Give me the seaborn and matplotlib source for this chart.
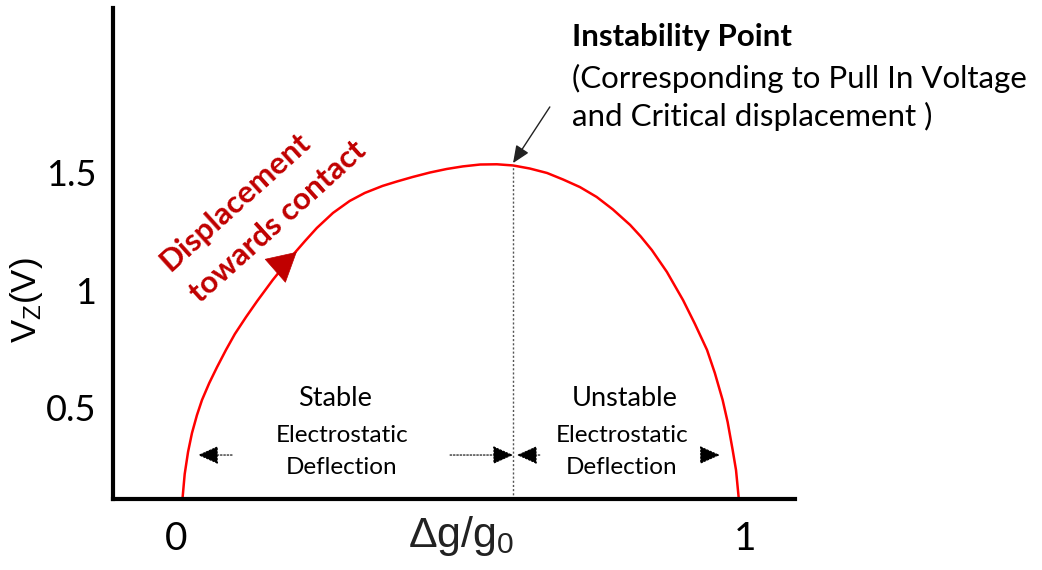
import numpy as np
import pandas as pd
import matplotlib
matplotlib.use("Agg")
import matplotlib.pyplot as plt
import matplotlib.transforms as mtransforms
import seaborn as sns

# ---- data ----
gap_ratio = [0.000, 0.004, 0.010, 0.017, 0.026, 0.035, 0.048, 0.062, 0.078,
             0.094, 0.114, 0.134, 0.162, 0.198, 0.220, 0.241, 0.270, 0.300,
             0.327, 0.359, 0.385, 0.413, 0.444, 0.474, 0.503, 0.534, 0.564,
             0.593, 0.623, 0.654, 0.683, 0.713, 0.743, 0.772, 0.803, 0.822,
             0.842, 0.869, 0.898, 0.919, 0.941, 0.955, 0.969, 0.978, 0.987,
             0.993, 0.998]
voltage = [0.111, 0.217, 0.311, 0.391, 0.468, 0.532, 0.604, 0.672, 0.745,
           0.813, 0.885, 0.953, 1.043, 1.149, 1.209, 1.264, 1.328, 1.379,
           1.413, 1.443, 1.462, 1.481, 1.500, 1.515, 1.526, 1.534, 1.535,
           1.530, 1.517, 1.498, 1.470, 1.438, 1.396, 1.343, 1.277, 1.228,
           1.170, 1.077, 0.957, 0.857, 0.745, 0.647, 0.532, 0.438, 0.319,
           0.234, 0.111]

x_ticks = [0, 0.25, 0.5, 0.75, 1]
x_tick_labels = ["0", "", "", "", "1"]
y_ticks = [0.5, 1, 1.5]
y_tick_labels = ["0.5", "1", "1.5"]

instability_x = 0.593
instability_v = 1.530

df = pd.DataFrame({"gap": gap_ratio, "v": voltage})

sns.set_theme(style="white")
plt.rcParams["font.family"] = ["Lato", "DejaVu Sans"]
plt.rcParams["mathtext.fontset"] = "custom"
plt.rcParams["mathtext.rm"] = "Liberation Sans"
plt.rcParams["mathtext.it"] = "Liberation Sans"
plt.rcParams["mathtext.bf"] = "Liberation Sans:bold"

fig = plt.figure(figsize=(10.42, 5.70), dpi=100)
ax = fig.add_axes([0.1084, 0.1246, 0.6545, 0.8614])

sns.lineplot(data=df, x="gap", y="v", ax=ax, color="#FF0000", lw=1.8,
             errorbar=None, sort=False)

ax.set_xlim(-0.1247, 1.0987)
ax.set_ylim(0.111, 2.2)

for s in ["top", "right"]:
    ax.spines[s].set_visible(False)
for s in ["left", "bottom"]:
    ax.spines[s].set_linewidth(3)
    ax.spines[s].set_color("black")

ax.set_xticks(x_ticks)
ax.set_xticklabels(x_tick_labels)
ax.set_yticks(y_ticks)
ax.set_yticklabels(y_tick_labels)
ax.tick_params(axis="x", direction="in", length=6, width=1.8, pad=16,
               labelsize=28, colors="black")
ax.tick_params(axis="y", direction="in", length=6, width=1.8, pad=12,
               labelsize=26, colors="black")

# nudge the "0" and "1" labels slightly apart, as in the reference
xlabels = ax.get_xticklabels()
xlabels[0].set_transform(xlabels[0].get_transform() +
                         mtransforms.ScaledTranslation(-6 / 100, 0, fig.dpi_scale_trans))
xlabels[-1].set_transform(xlabels[-1].get_transform() +
                          mtransforms.ScaledTranslation(5 / 100, 0, fig.dpi_scale_trans))

ax.set_xlabel("\u0394g/g$_0$", family="Liberation Sans", fontsize=31,
              color="#222222")
ax.xaxis.set_label_coords(0.51, -0.03)
ax.set_ylabel("V$_Z$(V)", family="Liberation Sans", fontsize=25,
              color="black")
ax.yaxis.set_label_coords(-0.10, 0.405)

# vertical dotted line at instability point
ax.plot([instability_x, instability_x], [0.111, instability_v],
        color="#555555", lw=1, ls=(0, (1.5, 1.5)))

# instability arrow
ax.annotate("", xy=(instability_x, 1.54), xytext=(0.659, 1.779),
            arrowprops=dict(arrowstyle="-|>,head_length=0.7,head_width=0.3",
                            mutation_scale=15, color="#222222", lw=1,
                            shrinkA=0, shrinkB=0))

ax.text(0.699, 2.077, "Instability Point", fontsize=22.5, fontweight="bold",
        ha="left", va="center", color="black")
ax.text(0.699, 1.902, "(Corresponding to Pull In Voltage", fontsize=22.5,
        ha="left", va="center", color="black")
ax.text(0.699, 1.740, "and Critical displacement )", fontsize=22.5,
        ha="left", va="center", color="black")

# red direction arrowhead on curve
ax.annotate("", xy=(0.205, 1.162), xytext=(0.168, 1.085),
            arrowprops=dict(arrowstyle="-|>,head_length=1.0,head_width=0.55",
                            mutation_scale=20, color="#C00000", lw=0.5,
                            shrinkA=0, shrinkB=0))

ax.text(0.094, 1.374, "Displacement", fontsize=22.5, fontweight="bold",
        color="#C00000", rotation=42, rotation_mode="anchor",
        ha="center", va="center")
ax.text(0.171, 1.289, "towards contact", fontsize=22.5, fontweight="bold",
        color="#C00000", rotation=42, rotation_mode="anchor",
        ha="center", va="center")

# region labels
ax.text(0.274, 0.540, "Stable", fontsize=19.5, ha="center", va="center",
        color="black")
ax.text(0.286, 0.379, "Electrostatic", fontsize=17.5, ha="center",
        va="center", color="black")
ax.text(0.286, 0.247, "Deflection", fontsize=17.5, ha="center",
        va="center", color="black")
ax.text(0.794, 0.540, "Unstable", fontsize=19.5, ha="center", va="center",
        color="black")
ax.text(0.788, 0.379, "Electrostatic", fontsize=17.5, ha="center",
        va="center", color="black")
ax.text(0.788, 0.247, "Deflection", fontsize=17.5, ha="center",
        va="center", color="black")

# dotted arrows
arrow_y = 0.298
dotted_arrows = [(0.089, 0.028), (0.480, 0.593), (0.641, 0.600),
                 (0.937, 0.964)]
for tail, tip in dotted_arrows:
    ax.annotate("", xy=(tip, arrow_y), xytext=(tail, arrow_y),
                arrowprops=dict(arrowstyle="-|>,head_length=0.85,head_width=0.38",
                                mutation_scale=15, color="black", lw=0.8,
                                linestyle=(0, (1.5, 1.5)),
                                shrinkA=0, shrinkB=0))

fig.savefig("out.png", dpi=100, facecolor="white")
